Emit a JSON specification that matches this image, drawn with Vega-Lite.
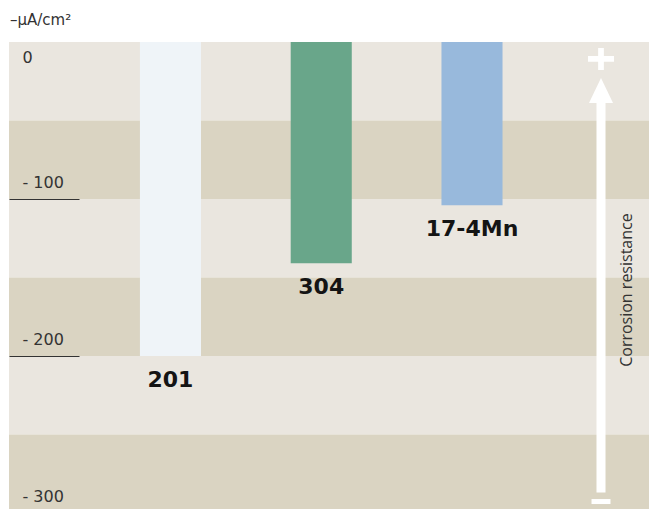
{
  "$schema": "https://vega.github.io/schema/vega-lite/v6.json",
  "autosize": "none",
  "padding": {"left": 9, "top": 42, "right": 0, "bottom": 0},
  "width": 640,
  "height": 471,
  "background": "white",
  "config": {"view": {"stroke": null}},
  "title": {
    "text": "–μA/cm²",
    "anchor": "start",
    "frame": "group",
    "baseline": "alphabetic",
    "offset": 2,
    "dx": 1,
    "font": "DejaVu Sans",
    "fontSize": 15,
    "fontWeight": "normal",
    "color": "#333333"
  },
  "datasets": {
    "bands": [
      {"lo": 0, "hi": -50, "shade": "light"},
      {"lo": -50, "hi": -100, "shade": "dark"},
      {"lo": -100, "hi": -150, "shade": "light"},
      {"lo": -150, "hi": -200, "shade": "dark"},
      {"lo": -200, "hi": -250, "shade": "light"},
      {"lo": -250, "hi": -300, "shade": "dark"}
    ],
    "alloys": [
      {"alloy": "201", "value": -200},
      {"alloy": "304", "value": -141},
      {"alloy": "17-4Mn", "value": -104}
    ],
    "arrow": [
      {"pos": 92.5, "top": -37, "bottom": -287, "head": -30.9, "plus": -10.8, "minus": -292.7, "label": "Corrosion resistance", "labelPos": 96.6, "labelY": -158}
    ]
  },
  "resolve": {"scale": {"x": "independent", "color": "independent"}},
  "layer": [
    {
      "data": {"name": "bands"},
      "mark": {"type": "rect", "clip": true},
      "encoding": {
        "y": {
          "field": "lo",
          "type": "quantitative",
          "scale": {"domain": [-300, 0], "nice": false, "zero": false},
          "axis": {
            "orient": "left",
            "title": null,
            "zindex": 1,
            "values": [0, -100, -200, -300],
            "domain": false,
            "grid": false,
            "tickSize": -70,
            "tickColor": "#333333",
            "tickWidth": 1,
            "tickOpacity": {"condition": {"test": "datum.value == -100 || datum.value == -200", "value": 1}, "value": 0},
            "labelAlign": "left",
            "labelBaseline": "alphabetic",
            "labelPadding": 57,
            "labelOffset": {"condition": {"test": "datum.value == 0", "value": 20}, "value": -12},
            "labelFont": "DejaVu Sans",
            "labelFontSize": 16,
            "labelColor": "#333333",
            "labelExpr": "datum.value == 0 ? '0' : '- ' + abs(datum.value)"
          }
        },
        "y2": {"field": "hi"},
        "color": {
          "field": "shade",
          "type": "nominal",
          "scale": {"domain": ["light", "dark"], "range": ["#EAE6DF", "#DAD4C2"]},
          "legend": null
        }
      }
    },
    {
      "data": {"name": "alloys"},
      "mark": {"type": "bar"},
      "encoding": {
        "x": {
          "field": "alloy",
          "type": "nominal",
          "sort": null,
          "scale": {"type": "band", "domain": ["201", "304", "17-4Mn"], "paddingInner": 0.595, "paddingOuter": 0.92, "align": 0.472},
          "axis": null
        },
        "y": {"field": "value", "type": "quantitative"},
        "color": {
          "field": "alloy",
          "type": "nominal",
          "scale": {"domain": ["201", "304", "17-4Mn"], "range": ["#EFF4F8", "#69A68A", "#98B9DC"]},
          "legend": null
        }
      }
    },
    {
      "data": {"name": "alloys"},
      "mark": {"type": "text", "baseline": "alphabetic", "align": "center", "dy": 31, "font": "DejaVu Sans", "fontWeight": "bold", "fontSize": 22, "color": "#141414"},
      "encoding": {
        "x": {
          "field": "alloy",
          "type": "nominal",
          "sort": null,
          "scale": {"type": "band", "domain": ["201", "304", "17-4Mn"], "paddingInner": 0.595, "paddingOuter": 0.92, "align": 0.472},
          "axis": null
        },
        "y": {"field": "value", "type": "quantitative"},
        "text": {"field": "alloy"}
      }
    },
    {
      "data": {"name": "arrow"},
      "mark": {"type": "rule", "color": "white", "strokeWidth": 9, "strokeCap": "butt"},
      "encoding": {
        "x": {"field": "pos", "type": "quantitative", "scale": {"domain": [0, 100]}, "axis": null},
        "y": {"field": "top", "type": "quantitative"},
        "y2": {"field": "bottom"}
      }
    },
    {
      "data": {"name": "arrow"},
      "mark": {"type": "point", "filled": true, "opacity": 1, "color": "white", "size": 576, "shape": "M0,-1.04L-1,1.04L1,1.04Z"},
      "encoding": {
        "x": {"field": "pos", "type": "quantitative", "scale": {"domain": [0, 100]}, "axis": null},
        "y": {"field": "head", "type": "quantitative"}
      }
    },
    {
      "data": {"name": "arrow"},
      "mark": {"type": "point", "filled": true, "opacity": 1, "color": "white", "size": 676, "shape": "M-1,-0.22H1V0.22H-1Z M-0.22,-0.85H0.22V0.85H-0.22Z"},
      "encoding": {
        "x": {"field": "pos", "type": "quantitative", "scale": {"domain": [0, 100]}, "axis": null},
        "y": {"field": "plus", "type": "quantitative"}
      }
    },
    {
      "data": {"name": "arrow"},
      "mark": {"type": "point", "filled": true, "opacity": 1, "color": "white", "size": 400, "shape": "M-0.95,-0.25H0.95V0.25H-0.95Z"},
      "encoding": {
        "x": {"field": "pos", "type": "quantitative", "scale": {"domain": [0, 100]}, "axis": null},
        "y": {"field": "minus", "type": "quantitative"}
      }
    },
    {
      "data": {"name": "arrow"},
      "mark": {"type": "text", "angle": 270, "align": "center", "baseline": "middle", "font": "Open Sans", "fontSize": 16, "color": "#333333"},
      "encoding": {
        "x": {"field": "labelPos", "type": "quantitative", "scale": {"domain": [0, 100]}, "axis": null},
        "y": {"field": "labelY", "type": "quantitative"},
        "text": {"field": "label"}
      }
    }
  ]
}
